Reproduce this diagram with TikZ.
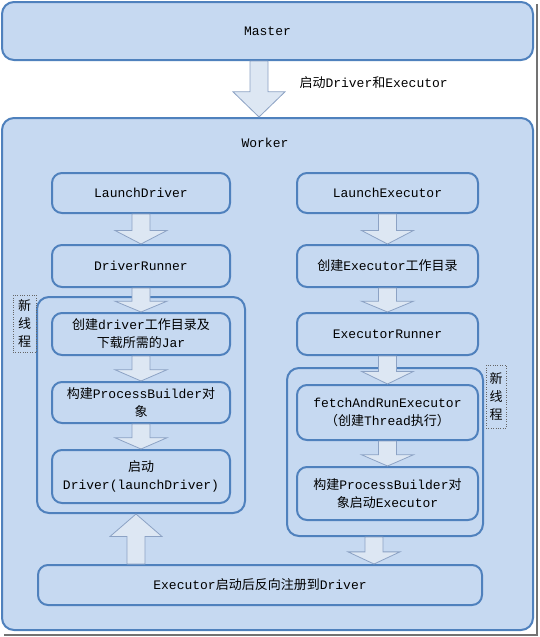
\documentclass[tikz,border=0pt]{standalone}
\usepackage{fontspec}
\setmainfont{Liberation Mono}
\newfontfamily\cjk{Noto Sans CJK SC}
\usetikzlibrary{calc}
\definecolor{boxfill}{RGB}{198,217,241}
\definecolor{boxline}{RGB}{79,129,189}
\definecolor{arrfill}{RGB}{221,231,243}
\definecolor{arrline}{RGB}{140,162,196}
\newcommand\zh[1]{{\cjk #1}}
% wide hollow arrow, vertical, from #1 to #2
\newcommand\fatarrow[2]{%
  \draw[blockarr] let \p1=(#1), \p2=(#2), \p3=($(\p1)!0.55!(\p2)$) in
    (\x1-9pt,\y1) -- (\x1-9pt,\y3) -- (\x1-26pt,\y3) -- (\x1,\y2)
    -- (\x1+26pt,\y3) -- (\x1+9pt,\y3) -- (\x1+9pt,\y1) -- cycle;}

\begin{document}
\begin{tikzpicture}[x=1pt,y=-1pt,font=\fontsize{13}{18}\selectfont,
  box/.style={draw=boxline, fill=boxfill, line width=2pt, rounded corners=10pt, align=center, inner sep=2pt},
  frame/.style={draw=boxline, line width=2pt, rounded corners=12pt, inner sep=0pt},
  note/.style={draw=black!60, dotted, align=center, inner sep=0pt, font=\cjk\fontsize{13}{18}\selectfont},
  blockarr/.style={draw=arrline, fill=arrfill, line width=0.8pt}]
  \useasboundingbox (0,0) rectangle (539,637);
  \fill[white] (0,0) rectangle (539,637);
  \draw[black!55, line width=2pt] (537,4) -- (537,635) -- (4,635);

  % outer boxes
  \node[box, rounded corners=12pt, minimum width=531pt, minimum height=512pt] (worker) at (267.5,374) {};
  \node (wlabel) at (265,143) {Worker};
  \node[box, rounded corners=12pt, minimum width=531pt, minimum height=58pt] (master) at (267.5,31) {Master};

  % driver side
  \node[box, minimum width=178pt, minimum height=40pt] (ld) at (141,193) {LaunchDriver};
  \node[box, minimum width=178pt, minimum height=42pt] (dr) at (141,266) {DriverRunner};
  \node[frame, minimum width=208pt, minimum height=216pt] (lc) at (141,405) {};
  \node[box, minimum width=178pt, minimum height=42pt] (d1) at (141,334)
    {\zh{创建}driver\zh{工作目录及}\\\zh{下载所需的}Jar};
  \node[box, minimum width=178pt, minimum height=41pt] (d2) at (141,402.5)
    {\zh{构建}ProcessBuilder\zh{对}\\\zh{象}};
  \node[box, minimum width=178pt, minimum height=53pt] (d3) at (141,476.5)
    {\zh{启动}\\Driver(launchDriver)};
  \node[note, minimum width=23pt, minimum height=57pt] (lnote) at (24.5,323.5) {新\\线\\程};

  % executor side
  \node[box, minimum width=181pt, minimum height=40pt] (le) at (387.5,193) {LaunchExecutor};
  \node[box, minimum width=181pt, minimum height=42pt] (e1) at (387.5,266) {\zh{创建}Executor\zh{工作目录}};
  \node[box, minimum width=181pt, minimum height=42pt] (er) at (387.5,334) {ExecutorRunner};
  \node[frame, minimum width=196pt, minimum height=168pt] (rc) at (385,452) {};
  \node[box, minimum width=181pt, minimum height=55pt] (e2) at (387.5,412.5)
    {fetchAndRunExecutor\\\zh{（创建}Thread\zh{执行）}};
  \node[box, minimum width=181pt, minimum height=53pt] (e3) at (387.5,493.5)
    {\zh{构建}ProcessBuilder\zh{对}\\\zh{象启动}Executor};
  \node[note, minimum width=20pt, minimum height=63pt] (rnote) at (496,396.5) {新\\线\\程};

  \node[box, minimum width=444pt, minimum height=40pt] (reg) at (260,585)
    {Executor\zh{启动后反向注册到}Driver};

  % arrows
  \coordinate (m0) at ($(master.south)+(-8.5,0)$);
  \coordinate (w0) at (m0 |- worker.north);
  \fatarrow{m0}{w0}
  \node[anchor=west] (mlabel) at (296,83) {\zh{启动}Driver\zh{和}Executor};
  \fatarrow{ld.south}{dr.north}
  \fatarrow{dr.south}{d1.north}
  \fatarrow{d1.south}{d2.north}
  \fatarrow{d2.south}{d3.north}
  \fatarrow{le.south}{e1.north}
  \fatarrow{e1.south}{er.north}
  \fatarrow{er.south}{e2.north}
  \fatarrow{e2.south}{e3.north}
  \coordinate (r0) at ($(rc.south)+(-11,0)$);
  \coordinate (r1) at (r0 |- reg.north);
  \fatarrow{r0}{r1}
  \coordinate (u0) at ($(reg.north)+(-124,0)$);
  \coordinate (u1) at (u0 |- lc.south);
  \fatarrow{u0}{u1}
\end{tikzpicture}
\end{document}
